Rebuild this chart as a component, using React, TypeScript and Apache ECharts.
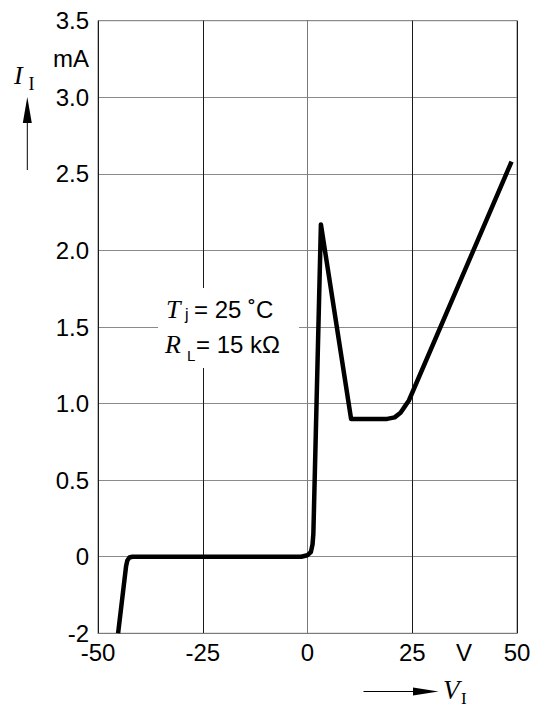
import React, { useEffect, useRef } from "react";
import * as echarts from "echarts";

// Input voltage V_I (V)
const voltages = [
  -45.2, -43.3, -43.0, -42.5, -41.8, -1.5, 0.0, 0.8, 1.2, 1.4, 3.2, 10.4, 19.0, 20.8, 22.2,
  23.2, 24.2, 48.7,
];
// Input current I_I (mA)
const currents = [
  -2.0, -0.25, -0.1, -0.02, 0.0, 0.0, 0.01, 0.03, 0.08, 0.15, 2.17, 0.9, 0.9, 0.91, 0.94,
  0.98, 1.02, 2.58,
];
// Y tick labels (broken axis: -2 then 0 ... 3.5 in 0.5 steps)
const yTickLabels = ["-2", "0", "0.5", "1.0", "1.5", "2.0", "2.5", "3.0", "3.5"];
const xTicks = { min: -50, max: 50, interval: 25 };

// map a current value onto the broken axis index scale
const toAxis = (v: number) => (v < 0 ? (v + 2) / 2 : v / 0.5 + 1);

const SANS = "'Liberation Sans', Arial, Helvetica, sans-serif";
const SERIF = "'Liberation Serif', 'Times New Roman', serif";

const txt = (text: string, x: number, y: number, font: string, align = "left") => ({
  type: "text",
  z: 51,
  x,
  y,
  style: { text, font, fill: "#000", align, verticalAlign: "middle" },
});

export default function App() {
  const ref = useRef<HTMLDivElement>(null);
  useEffect(() => {
    if (!ref.current) return;
    const chart = echarts.init(ref.current, null, { renderer: "svg" });
    const data = voltages.map((x, i) => [x, toAxis(currents[i])]);
    chart.setOption({
      animation: false,
      backgroundColor: "#ffffff",
      grid: {
        left: 98,
        right: 30,
        top: 20.7,
        bottom: 73.7,
        show: true,
        borderColor: "#7a7a7a",
        borderWidth: 1,
        backgroundColor: "transparent",
      },
      xAxis: {
        type: "value",
        min: xTicks.min,
        max: xTicks.max,
        interval: xTicks.interval,
        axisLine: { show: true, lineStyle: { color: "#7a7a7a", width: 1 } },
        axisTick: { show: false },
        axisLabel: {
          color: "#000",
          fontSize: 24,
          fontFamily: SANS,
          margin: 7,
        },
        splitLine: { show: true, lineStyle: { color: "#1a1a1a", width: 1 } },
      },
      yAxis: {
        type: "value",
        min: 0,
        max: yTickLabels.length - 1,
        interval: 1,
        axisLine: { show: true, lineStyle: { color: "#7a7a7a", width: 1 } },
        axisTick: { show: false },
        axisLabel: {
          color: "#000",
          fontSize: 24,
          fontFamily: SANS,
          margin: 9,
          formatter: (v: number) => yTickLabels[Math.round(v)] ?? "",
        },
        splitLine: { show: true, lineStyle: { color: "#8a8a8a", width: 1.2 } },
      },
      series: [
        {
          type: "line",
          data,
          showSymbol: false,
          symbol: "none",
          smooth: false,
          lineStyle: { color: "#000", width: 4.5, join: "round", cap: "butt" },
          z: 5,
        },
      ],
      graphic: [
        // annotation background
        {
          type: "rect",
          z: 50,
          shape: { x: 158, y: 288, width: 141, height: 80 },
          style: { fill: "#ffffff" },
        },
        txt("T", 166, 309.5, `italic 26px ${SERIF}`),
        txt("j", 185, 314, `16px ${SANS}`),
        txt("= 25 ˚C", 194, 309.5, `24px ${SANS}`),
        txt("R", 165, 344.5, `italic 26px ${SERIF}`),
        txt("L", 187, 355.5, `15px ${SANS}`),
        txt("= 15 kΩ", 196, 344.5, `24px ${SANS}`),
        // y unit
        txt("mA", 89, 58, `24px ${SANS}`, "right"),
        // x unit
        txt("V", 464, 652, `24px ${SANS}`, "center"),
        // y axis symbol I_I
        txt("I", 14, 75, `italic 26px ${SERIF}`),
        txt("I", 28.5, 83.5, `18px ${SERIF}`),
        // up arrow
        {
          type: "line",
          z: 51,
          shape: { x1: 27.3, y1: 170, x2: 27.3, y2: 118 },
          style: { stroke: "#000", lineWidth: 1 },
        },
        {
          type: "polygon",
          z: 51,
          shape: { points: [[27.3, 97], [22.8, 123], [31.8, 123]] },
          style: { fill: "#000" },
        },
        // x axis symbol V_I with arrow
        {
          type: "line",
          z: 51,
          shape: { x1: 363.5, y1: 691.5, x2: 418, y2: 691.5 },
          style: { stroke: "#000", lineWidth: 1 },
        },
        {
          type: "polygon",
          z: 51,
          shape: { points: [[438.5, 691.5], [413, 687.5], [413, 695.5]] },
          style: { fill: "#000" },
        },
        txt("V", 443, 690, `italic 27px ${SERIF}`),
        txt("I", 461, 698, `17px ${SERIF}`),
      ],
    });
    return () => chart.dispose();
  }, []);
  return (
    <div
      ref={ref}
      style={{ position: "absolute", left: 0, top: 0, width: 547, height: 707, background: "#fff" }}
    />
  );
}
